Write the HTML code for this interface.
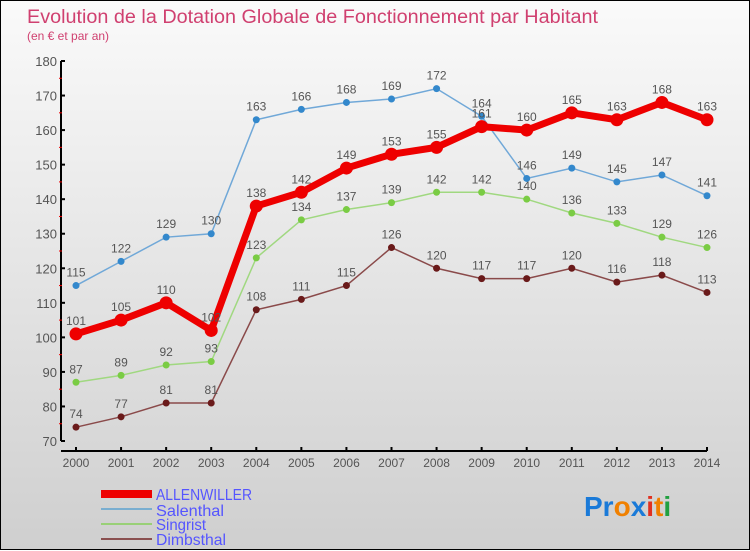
<!DOCTYPE html>
<html><head><meta charset="utf-8"><style>
body{margin:0;width:750px;height:550px;overflow:hidden}
#wrap{position:relative;width:748px;height:548px;border:1px solid #000;background:linear-gradient(#fafafa,#cfcfcf);font-family:"Liberation Sans",sans-serif}
svg{position:absolute;left:0;top:0}
</style></head><body>
<div id="wrap">
<svg id="svg" width="750" height="550">
<text x="26" y="22" font-size="19" fill="#d04070" textLength="571" lengthAdjust="spacingAndGlyphs">Evolution de la Dotation Globale de Fonctionnement par Habitant</text>
<text x="26" y="39" font-size="12" fill="#d04070">(en € et par an)</text>
<g>
<line x1="100" y1="493" x2="151" y2="493" stroke="#e00" stroke-width="8"/>
<text x="155" y="499" font-size="16" fill="#5555ff" textLength="96" lengthAdjust="spacingAndGlyphs">ALLENWILLER</text>
<line x1="100" y1="508" x2="151" y2="508" stroke="#7aaed0" stroke-width="2"/>
<text x="155" y="515" font-size="16" fill="#5555ff" textLength="68" lengthAdjust="spacingAndGlyphs">Salenthal</text>
<line x1="100" y1="523" x2="151" y2="523" stroke="#99d077" stroke-width="2"/>
<text x="155" y="529" font-size="16" fill="#5555ff" textLength="50" lengthAdjust="spacingAndGlyphs">Singrist</text>
<line x1="100" y1="538" x2="151" y2="538" stroke="#8a5050" stroke-width="2"/>
<text x="155" y="544" font-size="16" fill="#5555ff" textLength="70" lengthAdjust="spacingAndGlyphs">Dimbsthal</text>
</g>
<text x="583" y="515" font-size="28" font-weight="bold"><tspan fill="#1a7ad8">Pr</tspan><tspan fill="#f08000">o</tspan><tspan fill="#1a7ad8">x</tspan><tspan fill="#e03020">i</tspan><tspan fill="#f08000">t</tspan><tspan fill="#20a040">i</tspan></text>
</svg>
</div>
<script>
const years=[2000,2001,2002,2003,2004,2005,2006,2007,2008,2009,2010,2011,2012,2013,2014];
const allenwiller=[101,105,110,102,138,142,149,153,155,161,160,165,163,168,163];
const salenthal=[115,122,129,130,163,166,168,169,172,164,146,149,145,147,141];
const singrist=[87,89,92,93,123,134,137,139,142,142,140,136,133,129,126];
const dimbsthal=[74,77,81,81,108,111,115,126,120,117,117,120,116,118,113];
const yTicks=[70,80,90,100,110,120,130,140,150,160,170,180];
const svg=document.getElementById('svg');
const NS='http://www.w3.org/2000/svg';
const X=i=>75+i*(706-75)/(years.length-1);
const Y=v=>440-(v-70)*380/110;
function mk(t,a){const e=document.createElementNS(NS,t);for(const k in a)e.setAttribute(k,a[k]);svg.appendChild(e);return e;}
let ax=mk('path',{d:'M60 60V440M60 450H706',stroke:'#000','stroke-width':2,fill:'none'});


yTicks.forEach(v=>{
 let t=mk('text',{x:56,y:Y(v)+5,'font-size':13,fill:'#555','text-anchor':'end'});t.textContent=v;
 
 
 mk('line',{x1:60,y1:Y(v),x2:64,y2:Y(v),stroke:'#000','stroke-width':2});
 if(v<180)mk('line',{x1:58,y1:Y(v+5),x2:61,y2:Y(v+5),stroke:'#e00','stroke-width':1});
});
years.forEach((yr,i)=>{
 mk('line',{x1:X(i),y1:446,x2:X(i),y2:450,stroke:'#000','stroke-width':2});
 let t=mk('text',{x:X(i),y:466,'font-size':12,fill:'#555','text-anchor':'middle'});t.textContent=yr;
 
 
});
function series(data,name,color,dot,w,r){
 let p=mk('polyline',{points:data.map((v,i)=>X(i)+','+Y(v)).join(' '),fill:'none',stroke:color,'stroke-width':w});
 
 
 data.forEach((v,i)=>{
  let c=mk('circle',{cx:X(i),cy:Y(v),r:r,fill:dot});
  
  
  let t=mk('text',{x:X(i),y:Y(v)-9,'font-size':12,fill:'#555','text-anchor':'middle'});t.textContent=v;
  
  
 });
}
series(dimbsthal,'dimbsthal','#8a4a4a','#6a1a1a',1.5,3.5);
series(singrist,'singrist','#a0d880','#7acc44',1.5,3.5);
series(salenthal,'salenthal','#70a8d8','#3388cc',1.5,3.5);
series(allenwiller,'allenwiller','#ee0000','#ee0000',7,6.5);
</script>
</body></html>
